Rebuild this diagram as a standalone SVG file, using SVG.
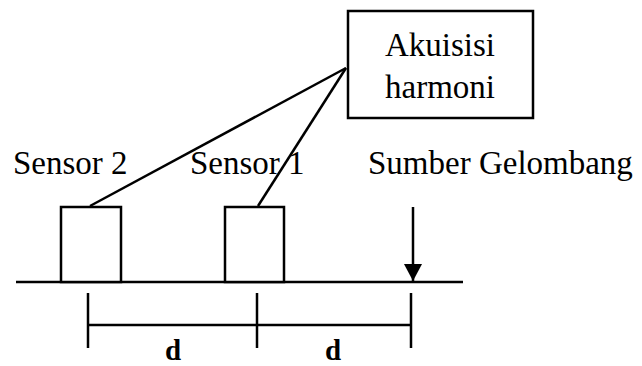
<svg xmlns="http://www.w3.org/2000/svg" width="642" height="366" viewBox="0 0 642 366">
  <style>
    .shape { fill: #fff; stroke: #000; stroke-width: 2.5; }
    .line { fill: none; stroke: #000; stroke-width: 2.5; }
    .label { font-family: "Liberation Serif", "Times New Roman", serif; font-size: 33px; fill: #000; }
    .dim { font-family: "Liberation Serif", "Times New Roman", serif; font-size: 29px; font-weight: bold; fill: #000; text-anchor: middle; }
  </style>
  <defs>
    <marker id="arrowhead" markerWidth="18" markerHeight="18" refX="17" refY="9" orient="auto" markerUnits="userSpaceOnUse" viewBox="0 0 18 18">
      <path d="M0,0 L17,9 L0,18 Z" fill="#000"/>
    </marker>
  </defs>
  <rect width="642" height="366" fill="#fff"/>

  <!-- ground surface -->
  <line class="line" x1="16" y1="282" x2="463" y2="282"/>

  <g id="acquisition">
    <rect class="shape" x="348" y="11" width="185" height="107"/>
    <text class="label" x="440" y="56" text-anchor="middle">Akuisisi</text>
    <text class="label" x="440" y="98" text-anchor="middle">harmoni</text>
  </g>

  <g id="sensor2">
    <rect class="shape" x="61" y="207" width="60" height="75"/>
    <text class="label" x="13" y="174">Sensor 2</text>
  </g>

  <g id="sensor1">
    <rect class="shape" x="225" y="207" width="59" height="75"/>
    <text class="label" x="190" y="174">Sensor 1</text>
  </g>

  <g id="source">
    <text class="label" x="368" y="174">Sumber Gelombang</text>
    <line class="line" x1="413" y1="207" x2="413" y2="281" marker-end="url(#arrowhead)"/>
  </g>

  <g id="connectors">
    <path class="line" d="M90,206 L346,68"/>
    <path class="line" d="M258,206 L346,68"/>
  </g>

  <g id="dimensions">
    <line class="line" x1="88" y1="293" x2="88" y2="348"/>
    <line class="line" x1="257" y1="293" x2="257" y2="348"/>
    <line class="line" x1="411" y1="293" x2="411" y2="348"/>
    <line class="line" x1="88" y1="325" x2="411" y2="325"/>
    <text class="dim" x="173" y="360">d</text>
    <text class="dim" x="333" y="360">d</text>
  </g>
</svg>
